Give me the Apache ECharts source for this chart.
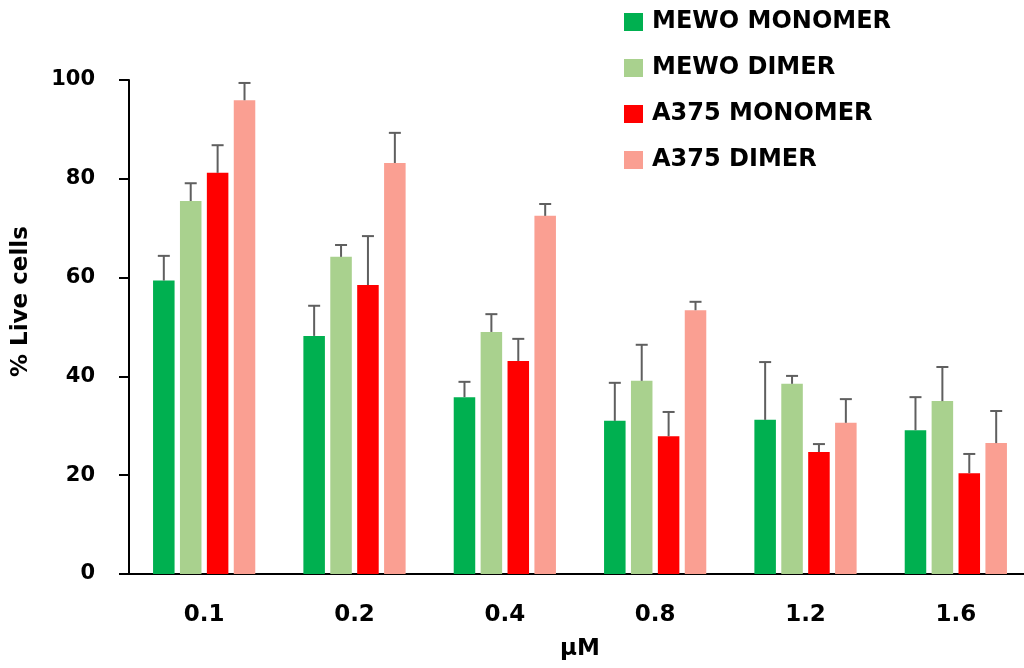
<!DOCTYPE html>
<html><head><meta charset="utf-8">
<script src="https://cdn.jsdelivr.net/npm/echarts@6/dist/echarts.min.js"></script>
<style>html,body{margin:0;padding:0;background:#fff}#c{width:1024px;height:668px}</style>
</head><body><div id="c"></div>
<script>
const categories = ['0.1','0.2','0.4','0.8','1.2','1.6'];
const seriesNames = ['MEWO MONOMER','MEWO DIMER','A375 MONOMER','A375 DIMER'];
const mewoMono = [59.4, 48.2, 35.8, 31.0, 31.2, 29.1];
const mewoMonoErr = [5.0, 6.1, 3.1, 7.7, 11.7, 6.7];
const mewoDimer = [75.5, 64.2, 49.0, 39.1, 38.5, 35.0];
const mewoDimerErr = [3.6, 2.4, 3.6, 7.3, 1.6, 6.9];
const a375Mono = [81.2, 58.5, 43.1, 27.9, 24.7, 20.4];
const a375MonoErr = [5.6, 9.9, 4.5, 4.9, 1.6, 3.9];
const a375Dimer = [95.9, 83.2, 72.5, 53.4, 30.6, 26.5];
const a375DimerErr = [3.5, 6.1, 2.4, 1.7, 4.8, 6.5];
const yTicks = [0, 20, 40, 60, 80, 100];

const values = [mewoMono, mewoDimer, a375Mono, a375Dimer];
const errors = [mewoMonoErr, mewoDimerErr, a375MonoErr, a375DimerErr];
const colors = ['#00B050', '#A9D18E', '#FF0000', '#FA9F92'];
const FONT = 'DejaVu Sans';
const BAR_GAP = 0.25, CAT_GAP = 0.32;

const series = [];
values.forEach((vals, i) => {
  series.push({
    name: seriesNames[i], type: 'bar', data: vals,
    barGap: (BAR_GAP*100)+'%', barCategoryGap: (CAT_GAP*100)+'%',
    itemStyle: { color: colors[i] }
  });
});
values.forEach((vals, i) => {
  series.push({
    type: 'custom', name: seriesNames[i] + ' err', silent: true, z: 5,
    data: vals.map((v, k) => [k, v, errors[i][k]]),
    renderItem: function (params, api) {
      const k = api.value(0), v = api.value(1), e = api.value(2);
      const band = api.size([1, 0])[0];
      const groupW = band * (1 - CAT_GAP);
      const barW = groupW / (4 + 3 * BAR_GAP);
      const off = -groupW / 2 + i * barW * (1 + BAR_GAP) + barW / 2;
      const p0 = api.coord([k, v]);
      const p1 = api.coord([k, v + e]);
      const x = p0[0] + off;
      const style = { stroke: '#5F5F5F', lineWidth: 2 };
      return { type: 'group', children: [
        { type: 'line', shape: { x1: x, y1: p0[1], x2: x, y2: p1[1] }, style },
        { type: 'line', shape: { x1: x - 6, y1: p1[1], x2: x + 6, y2: p1[1] }, style }
      ]};
    }
  });
});

const chart = echarts.init(document.getElementById('c'));
chart.setOption({
  animation: false,
  color: colors,
  grid: { left: 129, right: -7, top: 80, bottom: 94, containLabel: false, outerBoundsMode: 'none' },
  legend: {
    data: seriesNames, orient: 'vertical', left: 619, top: 5,
    itemWidth: 19, itemHeight: 18, itemGap: 22,
    icon: 'rect',
    textStyle: { fontFamily: FONT, fontWeight: 'bold', fontSize: 24, color: '#000', padding: [0,0,0,4] }
  },
  xAxis: {
    type: 'category', data: categories,
    name: 'µM', nameLocation: 'middle', nameGap: 64,
    nameTextStyle: { fontFamily: FONT, fontWeight: 'bold', fontSize: 23, color: '#000' },
    axisLine: { lineStyle: { color: '#000', width: 2 } },
    axisTick: { show: false },
    axisLabel: { fontFamily: FONT, fontWeight: 'bold', fontSize: 23, color: '#000', margin: 30 }
  },
  yAxis: {
    type: 'value', min: 0, max: 100, interval: 20,
    axisLine: { show: true, lineStyle: { color: '#000', width: 2 } },
    axisTick: { show: true, length: 10, lineStyle: { color: '#000', width: 2 } },
    splitLine: { show: false },
    axisLabel: { fontFamily: FONT, fontWeight: 'bold', fontSize: 21, color: '#000', margin: 34,
      formatter: v => yTicks.includes(v) ? String(v) : '' }
  },
  graphic: [{
    type: 'text', x: 10, y: 377, rotation: Math.PI / 2,
    style: { text: '% Live cells', fontFamily: FONT, fontWeight: 'bold', fontSize: 23, fill: '#000' }
  }],
  series
});
</script></body></html>
